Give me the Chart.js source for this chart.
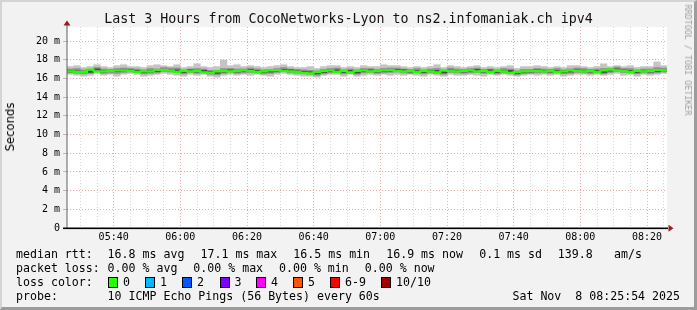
<!DOCTYPE html>
<html>
<head>
<meta charset="utf-8">
<script src="https://cdn.jsdelivr.net/npm/chart.js@4.4.1/dist/chart.umd.min.js"></script>
<style>
  html, body { margin: 0; padding: 0; }
  body { width: 697px; height: 310px; overflow: hidden; }
  #frame {
    position: absolute; left: 0; top: 0; width: 692px; height: 305px;
    background: #f2f2f2;
    border-top: 2px solid #d4d4d4; border-left: 2px solid #d4d4d4;
    border-right: 3px solid #9c9c9c; border-bottom: 3px solid #9c9c9c;
    box-sizing: content-box;
  }
  #chart { position: absolute; left: 0; top: 0; }
  .t { position: absolute; font-family: "DejaVu Sans Mono", monospace; font-size: 11.6px; line-height: 14px; color: #000; white-space: pre; }
  .sw { position: absolute; width: 8px; height: 9px; border: 1px solid #000; }
  #title { position: absolute; left: 0; width: 697px; top: 11px; text-align: center; font-family: "DejaVu Sans Mono", monospace; font-size: 13.3px; line-height: 16px; color: #111; white-space: pre; }
  #ylab { position: absolute; left: 10px; top: 127px; transform: translate(-50%, -50%) rotate(-90deg); font-family: "DejaVu Sans", sans-serif; font-size: 11.6px; white-space: pre; }
  #credit { position: absolute; left: 688px; top: 60px; transform: translate(-50%, -50%) rotate(90deg); font-family: "DejaVu Sans Mono", monospace; font-size: 8.4px; color: #a0a0a0; white-space: pre; }
</style>
</head>
<body>
<div id="frame"></div>
<canvas id="chart" width="697" height="310"></canvas>
<div id="title">Last 3 Hours from CocoNetworks-Lyon to ns2.infomaniak.ch ipv4</div>
<div id="ylab">Seconds</div>
<div id="credit">RRDTOOL / TOBI OETIKER</div>

<div class="t" style="left:16px;top:247px">median rtt:</div>
<div class="t" style="left:107.6px;top:247px">16.8 ms avg</div>
<div class="t" style="left:200.5px;top:247px">17.1 ms max</div>
<div class="t" style="left:293.3px;top:247px">16.5 ms min</div>
<div class="t" style="left:386.2px;top:247px">16.9 ms now</div>
<div class="t" style="left:479.2px;top:247px">0.1 ms sd</div>
<div class="t" style="left:557.8px;top:247px">139.8</div>
<div class="t" style="left:614px;top:247px">am/s</div>

<div class="t" style="left:16px;top:261px">packet loss:</div>
<div class="t" style="left:107.6px;top:261px">0.00 % avg</div>
<div class="t" style="left:193.3px;top:261px">0.00 % max</div>
<div class="t" style="left:279px;top:261px">0.00 % min</div>
<div class="t" style="left:364.8px;top:261px">0.00 % now</div>

<div class="t" style="left:16px;top:275px">loss color:</div>
<div id="losscolors"></div>

<div class="t" style="left:16px;top:289px">probe:</div>
<div class="t" style="left:107.6px;top:289px">10 ICMP Echo Pings (56 Bytes) every 60s</div>
<div class="t" style="right:17px;top:289px">Sat Nov  8 08:25:54 2025</div>

<script>
// 2-minute steps starting 05:26 (minutes since midnight)
const startMinute = 326;
const stepMinutes = 2;

const median = [
  16.75,16.75,16.7,16.7,16.95,16.75,16.75,16.8,16.85,16.85,
  16.8,16.7,16.75,16.75,16.9,16.9,16.85,16.7,16.8,16.75,
  16.8,16.65,16.6,16.75,16.8,16.75,16.8,16.85,16.8,16.7,
  16.75,16.85,16.9,16.8,16.75,16.7,16.6,16.55,16.7,16.8,
  16.85,16.7,16.8,16.65,16.8,16.85,16.75,16.8,16.85,16.9,
  16.8,16.75,16.8,16.7,16.8,16.75,16.65,16.85,16.8,16.75,
  16.8,16.85,16.75,16.8,16.7,16.8,16.75,16.6,16.7,16.75,
  16.8,16.8,16.75,16.8,16.7,16.75,16.85,16.8,16.75,16.8,
  16.7,16.85,16.95,16.85,16.8,16.7,16.8,16.75,16.8,16.9
];
const pingMax = [
  17.3,17.4,17.2,17.3,17.5,17.3,17.2,17.4,17.5,17.3,
  17.3,17.2,17.4,17.5,17.4,17.3,17.5,17.2,17.3,17.6,
  17.3,17.2,17.3,18.0,17.4,17.5,17.3,17.4,17.3,17.2,
  17.3,17.4,17.5,17.3,17.2,17.2,17.3,17.1,17.3,17.4,
  17.4,17.2,17.3,17.2,17.4,17.3,17.3,17.5,17.4,17.4,
  17.3,17.2,17.3,17.2,17.3,17.5,17.2,17.4,17.3,17.2,
  17.3,17.4,17.2,17.3,17.2,17.3,17.4,17.1,17.3,17.3,
  17.4,17.3,17.2,17.3,17.2,17.4,17.4,17.3,17.2,17.3,
  17.6,17.3,17.4,17.3,17.4,17.2,17.3,17.3,17.8,17.4
];
const pingMin = [
  16.4,16.3,16.2,16.3,16.5,16.3,16.4,16.2,16.4,16.5,
  16.4,16.2,16.3,16.4,16.5,16.4,16.3,16.2,16.4,16.3,
  16.4,16.2,16.1,16.3,16.4,16.3,16.4,16.3,16.4,16.3,
  16.2,16.4,16.5,16.4,16.3,16.2,16.2,16.1,16.3,16.4,
  16.4,16.2,16.4,16.2,16.3,16.4,16.3,16.4,16.3,16.4,
  16.3,16.4,16.3,16.2,16.4,16.3,16.2,16.4,16.3,16.3,
  16.4,16.3,16.2,16.4,16.3,16.4,16.3,16.2,16.3,16.4,
  16.3,16.4,16.3,16.4,16.2,16.3,16.4,16.4,16.3,16.4,
  16.3,16.4,16.5,16.3,16.4,16.2,16.4,16.3,16.4,16.5
];
const ping2 = [
  16.55,16.5,16.45,16.5,16.7,16.5,16.55,16.5,16.6,16.65,
  16.6,16.45,16.5,16.55,16.7,16.65,16.6,16.45,16.6,16.5,
  16.55,16.4,16.35,16.5,16.6,16.5,16.55,16.6,16.55,16.45,
  16.5,16.6,16.7,16.55,16.5,16.45,16.4,16.3,16.45,16.55,
  16.6,16.45,16.55,16.4,16.55,16.6,16.5,16.55,16.6,16.65,
  16.55,16.5,16.55,16.45,16.55,16.5,16.4,16.6,16.55,16.5,
  16.55,16.6,16.5,16.55,16.45,16.55,16.5,16.35,16.45,16.5,
  16.55,16.55,16.5,16.55,16.45,16.5,16.6,16.55,16.5,16.55,
  16.45,16.6,16.7,16.6,16.55,16.45,16.55,16.5,16.55,16.65
];
const ping8 = [
  17.05,17.1,16.95,17.0,17.2,17.05,17.0,17.1,17.15,17.1,
  17.05,16.95,17.1,17.05,17.2,17.15,17.15,16.95,17.05,17.1,
  17.05,16.9,16.9,17.1,17.1,17.05,17.05,17.15,17.05,16.95,
  17.0,17.1,17.2,17.05,17.0,16.95,16.9,16.85,17.0,17.1,
  17.15,16.95,17.05,16.95,17.1,17.1,17.0,17.1,17.15,17.15,
  17.05,17.0,17.1,16.95,17.05,17.1,16.9,17.15,17.05,17.0,
  17.1,17.15,17.0,17.05,16.95,17.1,17.05,16.85,17.0,17.0,
  17.1,17.05,17.0,17.1,16.95,17.05,17.15,17.1,17.0,17.05,
  17.1,17.1,17.25,17.1,17.1,16.95,17.05,17.05,17.2,17.15
];
const ping4 = [
  16.65,16.6,16.6,16.6,16.85,16.65,16.7,16.7,16.75,16.75,
  16.7,16.6,16.65,16.7,16.8,16.8,16.75,16.6,16.7,16.65,
  16.7,16.55,16.5,16.65,16.7,16.65,16.7,16.75,16.7,16.6,
  16.65,16.75,16.8,16.7,16.65,16.6,16.5,16.45,16.6,16.7,
  16.75,16.6,16.7,16.55,16.7,16.75,16.65,16.7,16.75,16.8,
  16.7,16.65,16.7,16.6,16.7,16.65,16.55,16.75,16.7,16.65,
  16.7,16.75,16.65,16.7,16.6,16.7,16.65,16.5,16.6,16.65,
  16.7,16.7,16.65,16.7,16.6,16.65,16.75,16.7,16.65,16.7,
  16.6,16.75,16.85,16.75,16.7,16.6,16.7,16.65,16.7,16.8
];
const ping6 = [
  16.9,16.85,16.8,16.85,17.05,16.9,16.85,16.95,17.0,16.95,
  16.9,16.8,16.9,16.85,17.0,17.0,16.95,16.8,16.95,16.85,
  16.9,16.75,16.75,16.85,16.95,16.85,16.9,17.0,16.9,16.8,
  16.9,16.95,17.0,16.95,16.85,16.8,16.75,16.7,16.8,16.95,
  16.95,16.85,16.9,16.8,16.95,16.95,16.9,16.9,17.0,17.0,
  16.95,16.85,16.9,16.85,16.9,16.9,16.75,16.95,16.9,16.85,
  16.9,17.0,16.85,16.95,16.8,16.9,16.9,16.75,16.8,16.85,
  16.95,16.9,16.85,16.9,16.85,16.9,16.95,16.9,16.9,16.9,
  16.85,16.95,17.05,16.95,16.9,16.85,16.9,16.9,16.95,17.0
];

const xTicks = [];
for (let m = 330; m <= 505; m += 5) xTicks.push(m);
const yTicks = [];
for (let v = 0; v <= 21; v++) yTicks.push(v);

const lossLabels = ['0', '1', '2', '3', '4', '5', '6-9', '10/10'];
const lossColors = ['#26ff00', '#00b8ff', '#0059ff', '#7e00ff', '#ff00ff', '#ff5500', '#ff0000', '#a10000'];
const lossBoxX = [108, 145, 182, 219.5, 256, 293, 330, 381];

// loss colour legend
const lc = document.getElementById('losscolors');
lossLabels.forEach((lab, i) => {
  const b = document.createElement('div');
  b.className = 'sw';
  b.style.left = lossBoxX[i] + 'px';
  b.style.top = '277px';
  b.style.background = lossColors[i];
  lc.appendChild(b);
  const t = document.createElement('div');
  t.className = 't';
  t.style.left = (lossBoxX[i] + 15) + 'px';
  t.style.top = '275px';
  t.textContent = lab;
  lc.appendChild(t);
});

const band = (lo, hi) => lo.map((v, i) => ({ x: startMinute + i * stepMinutes + 1, y: [v, hi[i]] }));
const medianPts = median.map((v, i) => ({ x: startMinute + i * stepMinutes, y: v }));
medianPts.push({ x: startMinute + median.length * stepMinutes, y: median[median.length - 1] });

const hhmm = m => String(Math.floor(m / 60)).padStart(2, '0') + ':' + String(m % 60).padStart(2, '0');

const plotBg = {
  id: 'plotBg',
  beforeDraw(chart) {
    const { ctx, chartArea: a } = chart;
    ctx.save();
    ctx.fillStyle = '#ffffff';
    ctx.fillRect(a.left, a.top, a.right - a.left, a.bottom - a.top);
    ctx.restore();
  },
  afterDraw(chart) {
    const { ctx, chartArea: a } = chart;
    ctx.save();
    // y axis
    ctx.fillStyle = '#606060';
    ctx.fillRect(a.left - 0.5, 24, 1, a.bottom - 24);
    // x axis
    ctx.fillStyle = '#000000';
    ctx.fillRect(a.left - 4, a.bottom - 0.5, a.right - a.left + 5, 1.6);
    // arrows
    ctx.fillStyle = '#a01818';
    ctx.beginPath();
    ctx.moveTo(a.left, 20.5); ctx.lineTo(a.left - 3.5, 25.5); ctx.lineTo(a.left + 3.5, 25.5);
    ctx.closePath(); ctx.fill();
    ctx.beginPath();
    ctx.moveTo(a.right + 6.5, a.bottom + 0.3); ctx.lineTo(a.right + 1.5, a.bottom - 3.2); ctx.lineTo(a.right + 1.5, a.bottom + 3.8);
    ctx.closePath(); ctx.fill();
    ctx.restore();
  }
};

const barCommon = { type: 'bar', borderWidth: 0, barPercentage: 1.08, categoryPercentage: 1, grouped: false };

new Chart(document.getElementById('chart').getContext('2d'), {
  type: 'bar',
  data: {
    datasets: [
      { type: 'line', data: medianPts, borderColor: '#26ff00', borderWidth: 2.2, pointRadius: 0, stepped: 'after', fill: false, order: 0 },
      { ...barCommon, data: band(ping4, ping6), backgroundColor: '#484848', order: 1 },
      { ...barCommon, data: band(ping2, ping8), backgroundColor: '#929292', order: 2 },
      { ...barCommon, data: band(pingMin, pingMax), backgroundColor: '#c4c4c4', order: 3 }
    ]
  },
  options: {
    responsive: false,
    animation: false,
    layout: { padding: { left: 0, top: 27, right: 30, bottom: 62 } },
    plugins: { legend: { display: false }, tooltip: { enabled: false } },
    scales: {
      x: {
        type: 'linear',
        min: startMinute,
        max: startMinute + 180,
        offset: false,
        afterBuildTicks: s => { s.ticks = xTicks.map(v => ({ value: v })); },
        afterFit: s => { s.height = 20; },
        grid: {
          offset: false,
          drawTicks: false,
          color: c => (c.tick && c.tick.value % 20 === 0) ? '#f0a8a8' : '#d6d6d6',
          lineWidth: 1
        },
        border: { display: false, dash: [1, 2] },
        ticks: {
          autoSkip: false, maxRotation: 0, padding: 3, color: '#000',
          font: { family: 'DejaVu Sans Mono', size: 10 },
          callback: v => v % 20 === 0 ? hhmm(v) : ''
        }
      },
      y: {
        min: 0,
        max: 21.5,
        afterBuildTicks: s => { s.ticks = yTicks.map(v => ({ value: v })); },
        afterFit: s => { s.width = 67; },
        grid: {
          tickLength: 4,
          color: c => (c.tick && c.tick.value % 2 === 0) ? '#f0a8a8' : '#d6d6d6',
          tickColor: '#bbbbbb'
        },
        border: { display: false, dash: [1, 2] },
        ticks: {
          padding: 3, color: '#000',
          font: { family: 'DejaVu Sans Mono', size: 10 },
          callback: v => v === 0 ? '0' : (v % 2 === 0 ? v + ' m' : '')
        }
      }
    }
  },
  plugins: [plotBg]
});
</script>
</body>
</html>
